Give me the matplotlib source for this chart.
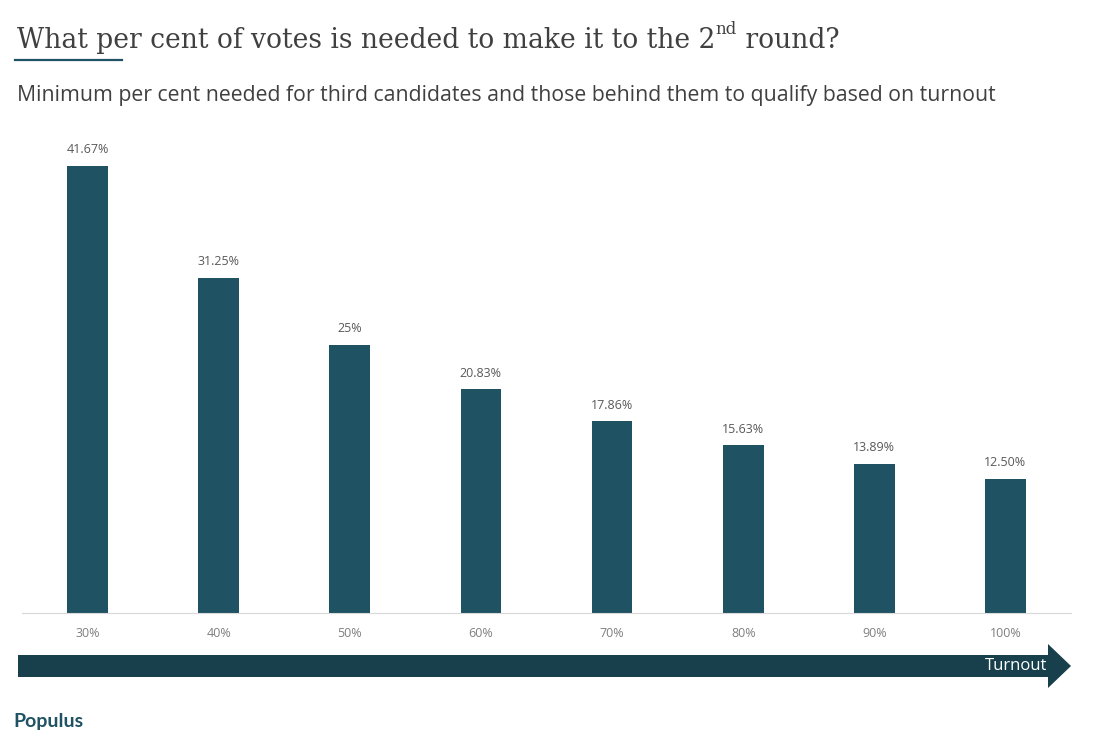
import matplotlib
matplotlib.use("Agg")
import matplotlib.pyplot as plt
from matplotlib.patches import Polygon
from matplotlib.lines import Line2D

turnout = ["30%", "40%", "50%", "60%", "70%", "80%", "90%", "100%"]
needed = [41.67, 31.25, 25, 20.83, 17.86, 15.63, 13.89, 12.50]
needed_labels = ["41.67%", "31.25%", "25%", "20.83%", "17.86%", "15.63%", "13.89%", "12.50%"]

W, H = 1094, 748
bar_color = "#1f5262"
arrow_color = "#173f4c"


def fx(px):
    return px / W


def fy(py):
    return 1 - py / H


fig = plt.figure(figsize=(W / 100, H / 100), dpi=100)
ax = fig.add_axes([fx(22), fy(613), fx(1071) - fx(22), fy(130) - fy(613)])

x = range(len(turnout))
ax.bar(x, needed, width=0.31, color=bar_color)
for i, v in enumerate(needed):
    ax.annotate(needed_labels[i], (i, v), xytext=(0, 7), textcoords="offset points",
                ha="center", va="bottom", fontsize=9, color="#595959", family="Open Sans")

ax.set_xlim(-0.5, len(turnout) - 0.5)
ax.set_ylim(0, 45)
ax.set_xticks(list(x))
ax.set_xticklabels(turnout, fontsize=9, color="#7f7f7f", family="Open Sans")
ax.tick_params(axis="x", length=0, pad=10)
ax.set_yticks([])
for s in ["top", "right", "left"]:
    ax.spines[s].set_visible(False)
ax.spines["bottom"].set_color("#d9d9d9")

# title with superscript
renderer = fig.canvas.get_renderer()
t1 = fig.text(fx(17), fy(48), "What per cent of votes is needed to make it to the 2",
              family="DejaVu Serif", fontsize=19.1, color="#404040", va="baseline")
bb = t1.get_window_extent(renderer)
t2 = fig.text(bb.x1 / W, fy(34), "nd", family="DejaVu Serif", fontsize=12,
              color="#404040", va="baseline")
bb2 = t2.get_window_extent(renderer)
fig.text(bb2.x1 / W, fy(48), " round?", family="DejaVu Serif", fontsize=19.1,
         color="#404040", va="baseline")
fig.add_artist(Line2D([fx(15), fx(122)], [fy(60), fy(60)], color=bar_color, lw=1.6))

fig.text(fx(17), fy(95), "Minimum per cent needed for third candidates and those behind them to qualify based on turnout",
         family="Open Sans", fontsize=15.35, color="#404040", va="center")

# turnout arrow
arrow = Polygon([(fx(18), fy(655)), (fx(1048), fy(655)), (fx(1048), fy(644)),
                 (fx(1071), fy(666)), (fx(1048), fy(688)), (fx(1048), fy(677)),
                 (fx(18), fy(677))], closed=True, facecolor=arrow_color,
                edgecolor="none", transform=fig.transFigure)
fig.add_artist(arrow)
fig.text(fx(1047), fy(666), "Turnout", family="Open Sans", fontsize=12,
         color="white", ha="right", va="center")

fig.text(fx(13), fy(721), "Populus", family="Lato", fontweight="bold", fontsize=14,
         color=bar_color, va="center")

fig.savefig("out.png", dpi=100)
